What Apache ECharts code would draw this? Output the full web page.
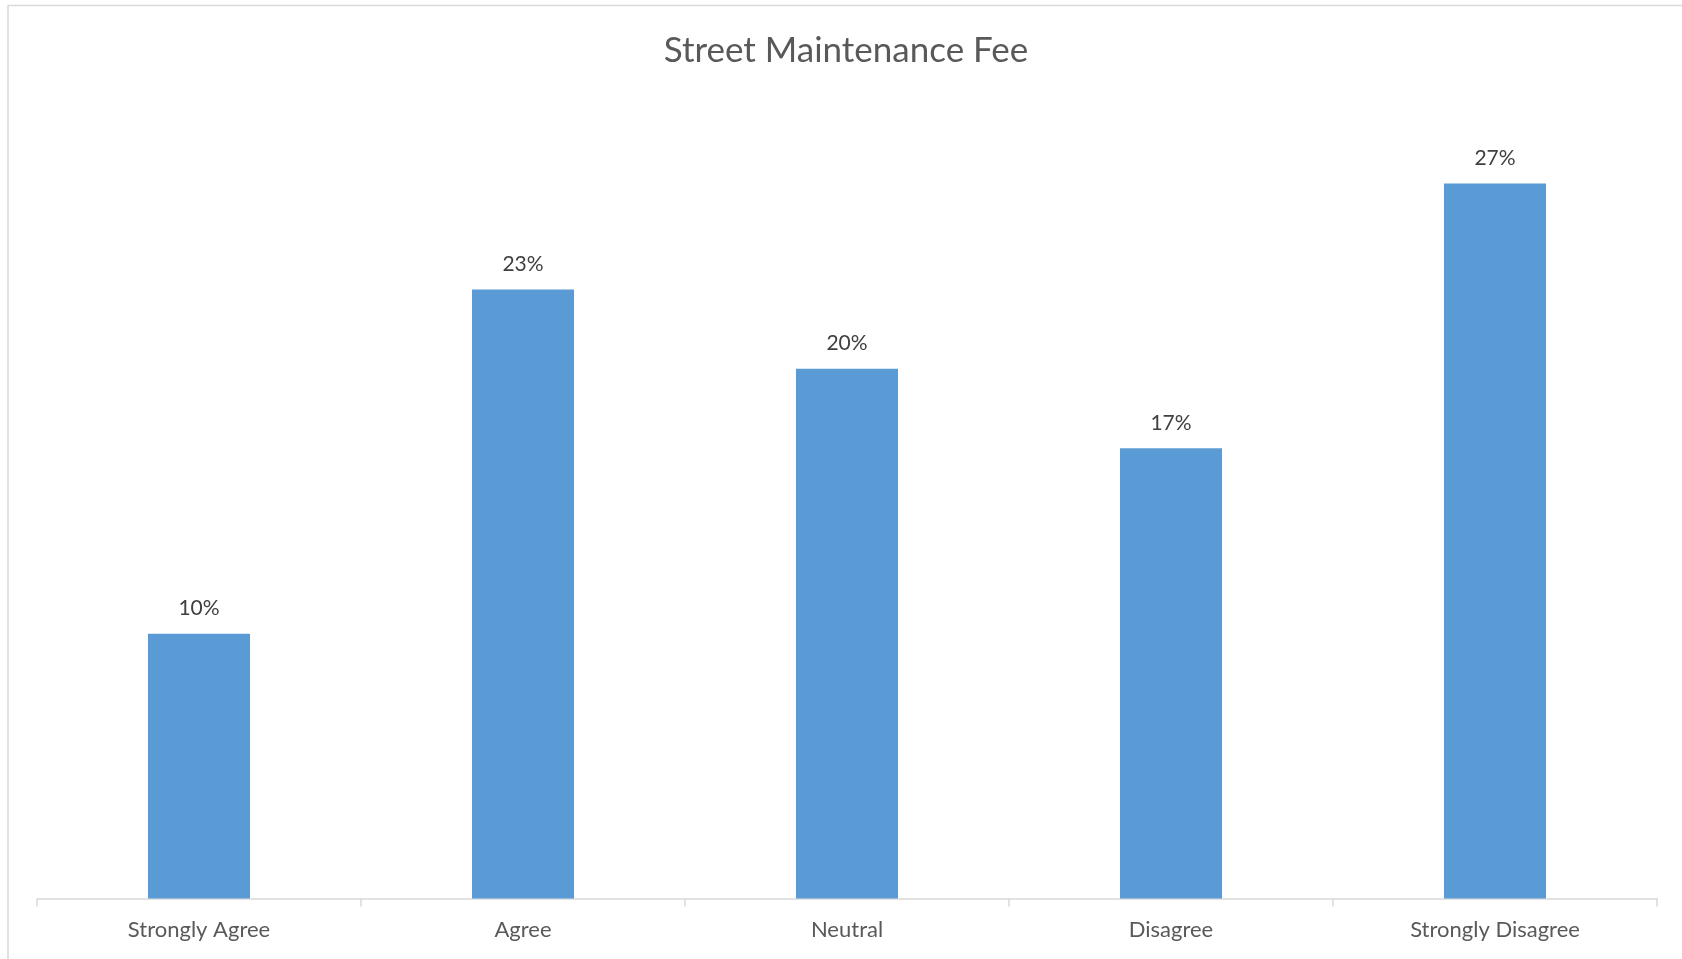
<!DOCTYPE html>
<html>
<head>
<meta charset="utf-8">
<title>Street Maintenance Fee</title>
<script src="https://cdn.jsdelivr.net/npm/echarts@6/dist/echarts.min.js"></script>
<style>
  html, body { margin: 0; padding: 0; background: #fff; }
  #chart { width: 1682px; height: 959px; }
</style>
</head>
<body>
<div id="chart"></div>
<script>
// survey answers
const categories = ['Strongly Agree', 'Agree', 'Neutral', 'Disagree', 'Strongly Disagree']
const percentValues = [10, 23, 20, 17, 27]

const textFont = 'Lato'

const myChart = echarts.init(document.getElementById('chart'))
const option = {
  animation: false,
  color: ['#5b9bd5'],
  title: {
    text: 'Street Maintenance Fee',
    left: 841,
    top: 28,
    textAlign: 'center',
    textStyle: {
      fontFamily: textFont,
      fontSize: 35,
      fontWeight: 'normal',
      color: '#595959'
    }
  },
  // chart area border (only top / left visible in the original crop)
  graphic: [
    {
      type: 'rect',
      silent: true,
      shape: { x: 8, y: 5.5, width: 2000, height: 2000 },
      style: { fill: 'none', stroke: '#d9d9d9', lineWidth: 1.5 }
    }
  ],
  grid: {
    left: 37,
    right: 25,
    top: 104,
    bottom: 60.5
  },
  xAxis: {
    type: 'category',
    data: categories,
    boundaryGap: true,
    axisLine: {
      show: true,
      lineStyle: { color: '#d9d9d9', width: 1.5 }
    },
    axisTick: {
      show: true,
      alignWithLabel: false,
      interval: 0,
      length: 8,
      lineStyle: { color: '#d9d9d9', width: 1.5 }
    },
    axisLabel: {
      margin: 20,
      fontFamily: textFont,
      fontSize: 22,
      color: '#595959'
    }
  },
  yAxis: {
    type: 'value',
    min: 0,
    max: 30,
    show: false,
    splitLine: { show: false }
  },
  series: [
    {
      name: 'Street Maintenance Fee',
      type: 'bar',
      barWidth: '31.5%',
      label: {
        show: true,
        position: 'top',
        distance: 15,
        formatter: p => p.value + '%',
        fontFamily: textFont,
        fontSize: 21,
        color: '#404040'
      },
      data: percentValues
    }
  ]
}
myChart.setOption(option, true)
</script>
</body>
</html>
